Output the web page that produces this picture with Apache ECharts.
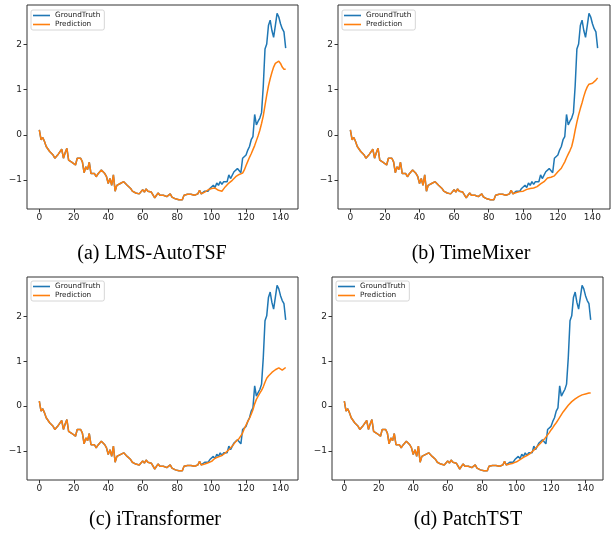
<!DOCTYPE html>
<html>
<head>
<meta charset="utf-8">
<script src="https://cdn.jsdelivr.net/npm/echarts@6/dist/echarts.min.js"></script>
<style>
html,body{margin:0;padding:0;background:#fff;}
#chart{width:611px;height:542px;}
</style>
</head>
<body>
<div id="chart"></div>
<script>
// ---- data ----
const steps = Array.from({length: 144}, (_, i) => i);
const groundTruth = [
 0.11,-0.11,-0.06,-0.15,-0.26,-0.30,-0.37,-0.33,-0.45,-0.52,
 -0.48,-0.43,-0.40,-0.32,-0.52,-0.40,-0.30,-0.56,-0.56,-0.61,
 -0.60,-0.67,-0.52,-0.56,-0.52,-0.60,-0.84,-0.71,-0.77,-0.61,
 -0.86,-0.89,-0.86,-0.93,-0.87,-0.89,-0.78,-0.77,-0.86,-0.93,
 -1.08,-0.97,-1.12,-0.89,-1.25,-1.12,-1.16,-1.08,-1.12,-1.04,
 -1.07,-1.12,-1.16,-1.19,-1.25,-1.27,-1.29,-1.27,-1.31,-1.27,
 -1.22,-1.27,-1.20,-1.25,-1.22,-1.27,-1.31,-1.40,-1.34,-1.29,
 -1.34,-1.33,-1.34,-1.31,-1.37,-1.40,-1.31,-1.38,-1.37,-1.42,
 -1.40,-1.44,-1.40,-1.44,-1.34,-1.37,-1.32,-1.33,-1.32,-1.34,
 -1.34,-1.38,-1.31,-1.23,-1.31,-1.29,-1.25,-1.22,-1.25,-1.19,
 -1.23,-1.12,-1.17,-1.07,-1.12,-1.04,-1.10,-1.04,-1.07,-1.04,
 -0.89,-0.97,-0.93,-0.82,-0.78,-0.75,-0.78,-0.84,-0.52,-0.48,
 -0.45,-0.34,-0.26,-0.11,-0.04,0.45,0.22,0.30,0.37,0.49,
 1.08,1.90,2.01,2.42,2.54,2.31,2.16,2.42,2.69,2.61,
 2.46,2.35,2.28,1.92
];
const historyLength = 96;
// forecasts for steps 96..143
const predLMSAutoTSF = [
 -1.27,-1.24,-1.22,-1.20,-1.19,-1.18,-1.18,-1.20,-1.23,-1.26,
 -1.25,-1.20,-1.15,-1.11,-1.07,-1.04,-1.01,-0.97,-0.93,-0.90,
 -0.88,-0.88,-0.85,-0.78,-0.68,-0.59,-0.50,-0.42,-0.33,-0.24,
 -0.13,-0.02,0.10,0.25,0.42,0.65,0.88,1.08,1.24,1.38,
 1.50,1.58,1.62,1.63,1.58,1.50,1.45,1.45
];
const predTimeMixer = [
 -1.28,-1.27,-1.26,-1.26,-1.25,-1.23,-1.21,-1.19,-1.19,-1.19,
 -1.18,-1.17,-1.15,-1.12,-1.09,-1.07,-1.04,-1.00,-0.96,-0.94,
 -0.94,-0.93,-0.91,-0.87,-0.82,-0.78,-0.74,-0.67,-0.60,-0.51,
 -0.43,-0.35,-0.26,-0.10,0.10,0.28,0.44,0.58,0.71,0.85,
 0.97,1.06,1.12,1.14,1.14,1.16,1.21,1.26
];
const predITransformer = [
 -1.29,-1.27,-1.26,-1.25,-1.23,-1.20,-1.16,-1.14,-1.13,-1.12,
 -1.10,-1.07,-1.04,-1.01,-0.97,-0.93,-0.89,-0.84,-0.79,-0.75,
 -0.72,-0.68,-0.60,-0.50,-0.42,-0.34,-0.27,-0.18,-0.08,0.05,
 0.15,0.22,0.29,0.35,0.43,0.53,0.62,0.67,0.71,0.75,
 0.78,0.81,0.83,0.85,0.84,0.80,0.82,0.86
];
const predPatchTST = [
 -1.29,-1.28,-1.27,-1.26,-1.24,-1.22,-1.19,-1.17,-1.14,-1.12,
 -1.10,-1.07,-1.05,-1.01,-0.98,-0.94,-0.90,-0.86,-0.82,-0.78,
 -0.74,-0.69,-0.64,-0.59,-0.53,-0.48,-0.42,-0.37,-0.31,-0.25,
 -0.19,-0.13,-0.08,-0.03,0.02,0.06,0.10,0.13,0.16,0.19,
 0.21,0.23,0.25,0.26,0.27,0.28,0.29,0.29
];
const captions = ['(a) LMS-AutoTSF','(b) TimeMixer','(c) iTransformer','(d) PatchTST'];
const xTicks = [0,20,40,60,80,100,120,140];
const yTicks = [-1,0,1,2];
const seriesNames = ['GroundTruth','Prediction'];

// ---- layout ----
const predictions = [predLMSAutoTSF, predTimeMixer, predITransformer, predPatchTST];
const grids = [
  {left:27, top:5, width:271, height:204},
  {left:338, top:5, width:272, height:204},
  {left:27, top:277, width:271, height:203},
  {left:332, top:277, width:271, height:203}
];
const legendPos = [[31,10],[342,10],[31,281],[336,281]];
const captionPos = [[152,254],[471,254],[155,520],[468,520]];
const BLUE = '#1f77b4', ORANGE = '#ff7f0e';
const tickFont = {fontFamily:'DejaVu Sans', fontSize:9, color:'#222'};

const option = {
  animation:false,
  backgroundColor:'#fff',
  grid: grids.map(g => Object.assign({show:true, borderColor:'#333', borderWidth:1, backgroundColor:'transparent'}, g)),
  xAxis: grids.map((g,k) => ({
    type:'value', gridIndex:k, min:-7.15, max:150.15, position:'bottom',
    axisLine:{show:false, onZero:false},
    splitLine:{show:false},
    axisTick:{show:true, inside:false, length:3.5, lineStyle:{color:'#333'}, customValues:xTicks},
    axisLabel:Object.assign({margin:4, customValues:xTicks}, tickFont)
  })),
  yAxis: grids.map((g,k) => ({
    type:'value', gridIndex:k, min:-1.645, max:2.875, position:'left',
    axisLine:{show:false, onZero:false},
    splitLine:{show:false},
    axisTick:{show:true, inside:false, length:3.5, lineStyle:{color:'#333'}, customValues:yTicks},
    axisLabel:Object.assign({margin:5, customValues:yTicks,
      formatter: v => (v < 0 ? '\u2212' + Math.abs(v) : String(v))}, tickFont)
  })),
  legend: legendPos.map(p => ({
    data: seriesNames, orient:'vertical', left:p[0], top:p[1],
    icon:'rect', itemWidth:17, itemHeight:1.6, itemGap:2,
    padding:[2,4,2,2], borderColor:'#ccc', borderWidth:0.8, borderRadius:2,
    backgroundColor:'rgba(255,255,255,0.8)',
    textStyle:{fontFamily:'DejaVu Sans', fontSize:7.3, color:'#222'},
    selectedMode:false
  })),
  series: [],
  graphic: captions.map((c,k) => ({
    type:'text', x:captionPos[k][0], y:captionPos[k][1],
    style:{text:c, fontFamily:'Liberation Serif', fontSize:20, fill:'#000',
      textAlign:'center', textVerticalAlign:'middle'}
  }))
};

predictions.forEach((pred, k) => {
  const full = groundTruth.slice(0, historyLength).concat(pred);
  option.series.push({
    name:seriesNames[0], type:'line', xAxisIndex:k, yAxisIndex:k,
    data: steps.map(i => [i, groundTruth[i]]),
    showSymbol:false, lineStyle:{color:BLUE, width:1.5}, itemStyle:{color:BLUE}
  });
  option.series.push({
    name:seriesNames[1], type:'line', xAxisIndex:k, yAxisIndex:k,
    data: steps.map(i => [i, full[i]]),
    showSymbol:false, lineStyle:{color:ORANGE, width:1.5}, itemStyle:{color:ORANGE}
  });
});

const chart = echarts.init(document.getElementById('chart'));
chart.setOption(option);
</script>
</body>
</html>
